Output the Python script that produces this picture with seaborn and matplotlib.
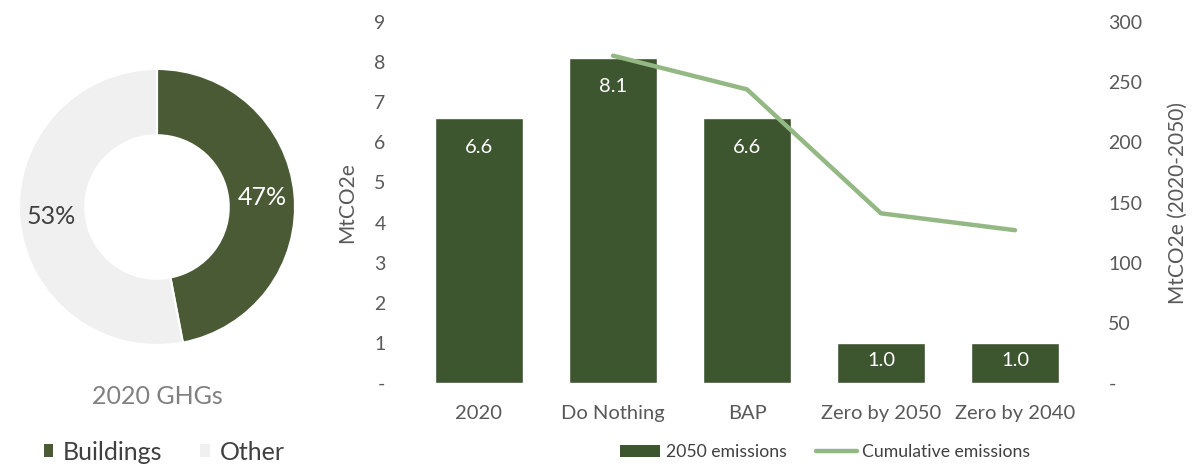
import matplotlib
matplotlib.use("Agg")
import matplotlib.pyplot as plt
from matplotlib.patches import Patch
from matplotlib.lines import Line2D
import numpy as np
import pandas as pd
import seaborn as sns

# ---- data -------------------------------------------------------------
share_labels = ["Buildings", "Other"]
share_values = [47, 53]

scenarios = ["2020", "Do Nothing", "BAP", "Zero by 2050", "Zero by 2040"]
emissions_2050 = [6.6, 8.1, 6.6, 1.0, 1.0]
cumulative_scenarios = ["Do Nothing", "BAP", "Zero by 2050", "Zero by 2040"]
cumulative_emissions = [272, 244, 141, 127]

left_ticks = list(range(0, 10))
right_ticks = list(range(0, 301, 50))

# ---- style ------------------------------------------------------------
sns.set_theme(style="white")
plt.rcParams["font.family"] = ["Lato", "DejaVu Sans"]

BAR_GREEN = "#3e5630"
DONUT_GREEN = "#4a5a35"
OTHER_GREY = "#f0f0f0"
LINE_GREEN = "#93b883"
TICK_GREY = "#595959"
TEXT_DARK = "#404040"

W, H = 1196, 466
fig = plt.figure(figsize=(W / 100, H / 100), dpi=100)
fig.patch.set_facecolor("white")


def px_axes(left, top, right, bottom):
    return fig.add_axes([left / W, 1 - bottom / H, (right - left) / W, (bottom - top) / H])


# ---- donut: share of 2020 GHGs ---------------------------------------
ax_d = px_axes(17, 67, 297, 347)
r = 138 / 140
wedges, texts, autotexts = ax_d.pie(
    share_values,
    colors=[DONUT_GREEN, OTHER_GREY],
    startangle=90,
    counterclock=False,
    radius=r,
    autopct=lambda p: f"{p:.0f}%",
    pctdistance=0.77,
    wedgeprops=dict(width=r * 0.48, edgecolor="white", linewidth=1.5),
    textprops=dict(fontsize=18),
)
autotexts[0].set_color("white")
autotexts[1].set_color(TEXT_DARK)
ax_d.set_xlim(-1, 1)
ax_d.set_ylim(-1, 1)
ax_d.set_aspect("equal")
ax_d.axis("off")

fig.text(157 / W, 1 - 397 / H, "2020 GHGs", ha="center", va="center",
         fontsize=18, color="#808080")

share_handles = [Patch(facecolor=DONUT_GREEN, edgecolor="none"),
                 Patch(facecolor=OTHER_GREY, edgecolor="none")]
fig.legend(share_handles, share_labels, loc="center",
           bbox_to_anchor=(164 / W, 1 - 452 / H), ncol=2, frameon=False,
           fontsize=18, handlelength=0.38, handleheight=0.38,
           handletextpad=0.4, columnspacing=1.5, labelcolor=TEXT_DARK)

# ---- bars: 2050 emissions by scenario ----------------------------------
ax = px_axes(412, 22, 1082, 383)
bar_df = pd.DataFrame({"scenario": scenarios, "emissions": emissions_2050})
sns.barplot(data=bar_df, x="scenario", y="emissions", color=BAR_GREEN,
            saturation=1, width=0.66, ax=ax)

for i, v in enumerate(emissions_2050):
    y = v - 0.72 if v > 2 else v / 2 + 0.07
    ax.text(i, y, f"{v:.1f}", ha="center", va="center", color="white", fontsize=14.5)

ax.set_xlim(-0.5, len(scenarios) - 0.5)
ax.set_ylim(0, 9)
ax.set_yticks(left_ticks)
ax.set_yticklabels(["-" if t == 0 else str(t) for t in left_ticks])
ax.set_xlabel("")
ax.set_ylabel("MtCO2e", fontsize=15, color=TICK_GREY, labelpad=12)
ax.tick_params(axis="y", length=0, pad=19, labelsize=14, labelcolor=TICK_GREY)
ax.tick_params(axis="x", length=0, pad=16, labelsize=14.5, labelcolor=TICK_GREY)
for s in ax.spines.values():
    s.set_visible(False)

# ---- line: cumulative emissions on secondary axis ----------------------
ax2 = ax.twinx()
line_df = pd.DataFrame({
    "pos": [scenarios.index(s) for s in cumulative_scenarios],
    "cumulative": cumulative_emissions,
})
sns.lineplot(data=line_df, x="pos", y="cumulative", color=LINE_GREEN,
             linewidth=3.2, ax=ax2)
for ln in ax2.get_lines():
    ln.set_solid_capstyle("round")
ax2.set_xlim(-0.5, len(scenarios) - 0.5)
ax2.set_ylim(0, 300)
ax2.set_yticks(right_ticks)
ax2.set_yticklabels(["-" if t == 0 else str(t) for t in right_ticks])
ax2.set_xlabel("")
ax2.set_ylabel("MtCO2e (2020-2050)", fontsize=15, color=TICK_GREY, labelpad=18.5)
ax2.tick_params(axis="y", length=0, pad=19, labelsize=14, labelcolor=TICK_GREY)
for s in ax2.spines.values():
    s.set_visible(False)
ax2.grid(False)
ax.grid(False)

series_handles = [Patch(facecolor=BAR_GREEN, edgecolor="none"),
                  Line2D([0], [0], color=LINE_GREEN, linewidth=3.2,
                         solid_capstyle="round")]
fig.legend(series_handles, ["2050 emissions", "Cumulative emissions"],
           loc="center", bbox_to_anchor=(825 / W, 1 - 452 / H), ncol=2,
           frameon=False, fontsize=12.7, handlelength=2.3, handleheight=0.65,
           handletextpad=0.3, columnspacing=1.7, labelcolor=TEXT_DARK)

fig.savefig("out.png", dpi=100, facecolor="white")
